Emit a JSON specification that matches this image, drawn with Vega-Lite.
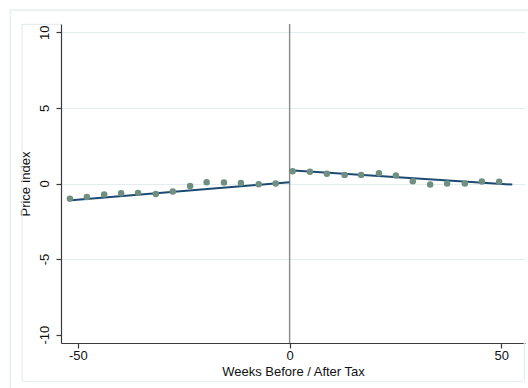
{
  "$schema": "https://vega.github.io/schema/vega-lite/v6.json",
  "width": 464,
  "height": 319,
  "autosize": {"type": "none"},
  "padding": {"left": 61, "top": 24, "right": 3, "bottom": 45},
  "background": "white",
  "config": {
    "font": "Liberation Sans",
    "view": {"stroke": null},
    "axis": {
      "labelFont": "Liberation Sans",
      "titleFont": "Liberation Sans",
      "labelFontSize": 13,
      "titleFontSize": 13,
      "titleFontWeight": "normal",
      "labelColor": "#111111",
      "titleColor": "#111111",
      "domainColor": "#3a3a3a",
      "tickColor": "#3a3a3a",
      "domainWidth": 1.2,
      "tickWidth": 1.2,
      "tickSize": 5
    }
  },
  "datasets": {
    "bins": [
      {"week": -51.9, "price": -1.0},
      {"week": -47.9, "price": -0.89},
      {"week": -43.8, "price": -0.73},
      {"week": -39.8, "price": -0.65},
      {"week": -35.8, "price": -0.62},
      {"week": -31.6, "price": -0.69},
      {"week": -27.6, "price": -0.53},
      {"week": -23.5, "price": -0.16},
      {"week": -19.6, "price": 0.09},
      {"week": -15.5, "price": 0.07},
      {"week": -11.5, "price": 0.04},
      {"week": -7.3, "price": -0.05},
      {"week": -3.3, "price": 0.0},
      {"week": 0.7, "price": 0.81},
      {"week": 4.8, "price": 0.77},
      {"week": 8.8, "price": 0.64},
      {"week": 13.0, "price": 0.57},
      {"week": 16.9, "price": 0.57},
      {"week": 21.1, "price": 0.68},
      {"week": 25.1, "price": 0.53},
      {"week": 29.1, "price": 0.15},
      {"week": 33.2, "price": -0.07},
      {"week": 37.2, "price": 0.0},
      {"week": 41.4, "price": 0.0},
      {"week": 45.4, "price": 0.13},
      {"week": 49.5, "price": 0.11}
    ],
    "fits": [
      {"side": "before", "week": -52.3, "fit": -1.12},
      {"side": "before", "week": 0, "fit": 0.08},
      {"side": "after", "week": 0, "fit": 0.88},
      {"side": "after", "week": 52.6, "fit": -0.07}
    ],
    "one": [{}]
  },
  "layer": [
    {
      "description": "outer graph region frame",
      "data": {"name": "one"},
      "mark": {"type": "rect", "fill": null, "stroke": "#e3ecee", "strokeWidth": 1.2, "clip": false},
      "encoding": {
        "x": {"datum": -66.0, "type": "quantitative"},
        "x2": {"datum": 62},
        "y": {"datum": 11.47, "type": "quantitative"},
        "y2": {"datum": -15}
      }
    },
    {
      "description": "inner graph region frame, left side",
      "data": {"name": "one"},
      "mark": {"type": "rule", "stroke": "#e3ecee", "strokeWidth": 1.2, "clip": false},
      "encoding": {
        "x": {"datum": -63.2, "type": "quantitative"},
        "y": {"datum": 10.53, "type": "quantitative"},
        "y2": {"datum": -13.08}
      }
    },
    {
      "description": "inner graph region frame, bottom side",
      "data": {"name": "one"},
      "mark": {"type": "rule", "stroke": "#e3ecee", "strokeWidth": 1.2, "clip": false},
      "encoding": {
        "x": {"datum": -63.2, "type": "quantitative"},
        "x2": {"datum": 55.43},
        "y": {"datum": -13.08, "type": "quantitative"}
      }
    },
    {
      "description": "inner graph region frame, right side below the axis",
      "data": {"name": "one"},
      "mark": {"type": "rule", "stroke": "#e3ecee", "strokeWidth": 1.2, "clip": false},
      "encoding": {
        "x": {"datum": 55.43, "type": "quantitative"},
        "y": {"datum": -10.55, "type": "quantitative"},
        "y2": {"datum": -13.08}
      }
    },
    {
      "description": "inner graph region frame, top side left of the axis",
      "data": {"name": "one"},
      "mark": {"type": "rule", "stroke": "#e3ecee", "strokeWidth": 1.2, "clip": false},
      "encoding": {
        "x": {"datum": -63.2, "type": "quantitative"},
        "x2": {"datum": -54},
        "y": {"datum": 10.53, "type": "quantitative"}
      }
    },
    {
      "description": "tax date marker",
      "data": {"name": "one"},
      "mark": {"type": "rule", "stroke": "#8a8a8a", "strokeWidth": 1.4},
      "encoding": {
        "x": {"datum": 0, "type": "quantitative"}
      }
    },
    {
      "data": {"name": "fits"},
      "mark": {"type": "line", "stroke": "#1c4a72", "strokeWidth": 2},
      "encoding": {
        "x": {
          "field": "week",
          "type": "quantitative",
          "scale": {"domain": [-54, 55.6], "nice": false, "zero": false},
          "axis": {
            "values": [-50, 0, 50],
            "labelExpr": "'' + datum.value",
            "grid": false,
            "title": "Weeks Before / After Tax",
            "labelPadding": 1,
            "titlePadding": 3
          }
        },
        "y": {
          "field": "fit",
          "type": "quantitative",
          "scale": {"domain": [-10.55, 10.55], "nice": false, "zero": false},
          "axis": {
            "values": [-10, -5, 0, 5, 10],
            "labelExpr": "'' + datum.value",
            "labelAngle": -90,
            "labelPadding": 5,
            "title": "Price Index",
            "titlePadding": 6,
            "grid": true,
            "gridColor": "#e3ecee",
            "gridWidth": 1.2,
            "gridOpacity": {"condition": {"test": "datum.value === -10", "value": 0}, "value": 1}
          }
        },
        "detail": {"field": "side"}
      }
    },
    {
      "data": {"name": "bins"},
      "mark": {"type": "circle", "size": 42, "color": "#6f8f81", "opacity": 1},
      "encoding": {
        "x": {"field": "week", "type": "quantitative"},
        "y": {"field": "price", "type": "quantitative"}
      }
    }
  ]
}
